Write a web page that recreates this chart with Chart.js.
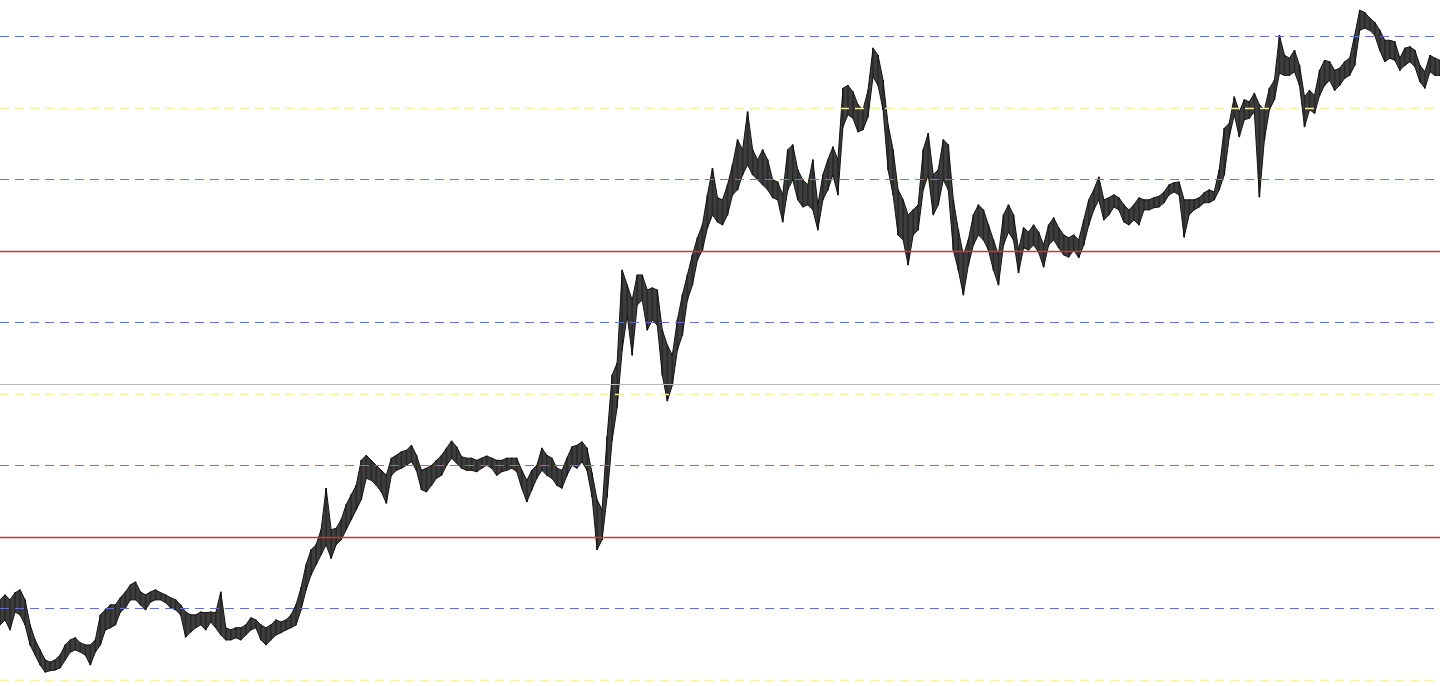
<!DOCTYPE html>
<html>
<head>
<meta charset="utf-8">
<script src="https://cdn.jsdelivr.net/npm/chart.js@4/dist/chart.umd.min.js"></script>
<style>
html,body{margin:0;padding:0;background:#fff;overflow:hidden;}
#wrap{width:1440px;height:686px;position:relative;}
</style>
</head>
<body>
<div id="wrap"><canvas id="c"></canvas></div>
<script>
// Price highs (top of each bar group)
const highs = [
111.2,111.9,111.2,112.2,112.6,111.2,107.7,105.6,104.2,102.8,102.5,102.8,103.5,104.9,105.6,105.9,105.2,104.9,104.9,105.6,
109.1,109.8,110.5,110.5,111.5,112.3,113.3,113.7,112.3,111.9,112.3,112.6,112.2,111.9,111.5,111.2,110.5,109.5,109.1,109.1,
109.5,109.4,109.5,109.4,112.3,107.3,107.0,107.3,107.3,107.7,108.7,108.4,107.7,107.3,107.7,108.4,108.1,108.4,109.1,110.5,
112.9,116.1,118.2,118.9,121.0,126.8,121.0,121.2,122.4,124.5,125.9,127.2,130.7,131.4,130.7,130.0,129.3,128.6,131.0,131.4,
131.9,132.1,132.8,131.4,129.3,129.6,130.0,130.7,131.4,132.4,133.4,132.6,131.2,131.0,131.0,130.7,131.0,131.3,131.0,130.7,
130.7,131.0,131.0,131.0,129.3,127.9,129.3,130.0,132.4,131.4,131.0,129.6,129.3,131.0,132.6,132.8,133.3,132.4,128.9,125.2,
123.8,134.0,142.6,144.3,157.3,155.2,153.1,156.6,156.6,154.5,154.8,154.5,148.9,146.8,145.4,150.3,153.8,156.6,159.4,161.8,
163.6,167.8,171.5,167.4,167.1,169.2,172.0,175.5,174.1,179.4,174.1,172.7,174.1,172.7,169.9,169.6,167.8,174.1,174.8,171.3,
169.9,169.2,172.7,166.4,170.6,172.7,174.5,172.7,182.7,183.1,182.2,180.4,179.7,182.4,188.3,187.3,183.8,177.6,174.1,168.5,
167.1,165.0,165.7,166.4,174.1,176.4,170.6,171.3,175.5,174.8,167.1,162.9,159.4,161.5,165.0,166.4,165.7,163.6,161.5,159.4,
165.0,166.4,165.0,160.1,163.2,162.6,163.6,162.6,160.8,163.6,164.6,163.2,162.2,161.8,162.2,161.5,164.3,167.1,168.5,170.3,
167.1,167.4,167.8,167.4,166.4,165.7,166.4,167.4,167.1,167.1,167.4,167.6,168.2,169.2,169.5,169.6,167.1,167.1,167.1,167.4,
168.1,168.5,168.2,171.3,177.1,177.8,181.5,179.4,181.1,180.8,182.0,180.4,179.7,182.7,183.8,190.1,187.3,186.9,188.0,185.9,
181.5,182.4,181.7,185.2,186.6,186.4,185.2,185.5,186.4,186.9,190.1,193.6,193.3,192.5,191.9,190.8,189.4,189.4,189.2,186.9,
188.3,188.5,188.0,185.9,185.0,187.3,186.9,186.6
];
// Price lows (bottom of each bar group)
const lows = [
107.7,108.4,107.0,109.5,109.1,107.7,104.9,103.5,102.1,101.1,101.3,101.4,101.7,102.8,103.9,104.2,103.9,103.5,102.1,103.9,
104.9,107.0,107.3,107.7,109.5,110.1,111.2,111.2,110.5,109.8,110.9,111.2,111.2,110.8,110.1,109.8,109.1,106.0,106.7,107.3,
107.7,107.0,108.1,107.3,106.3,105.6,105.6,105.9,105.6,106.3,107.0,107.3,105.6,104.9,105.6,106.3,106.6,107.0,107.3,107.7,
109.8,112.6,114.7,116.1,117.5,118.9,117.0,118.9,119.6,121.0,122.4,123.8,125.2,128.2,127.9,127.2,126.3,124.7,128.6,129.3,
129.6,130.0,130.5,129.3,126.6,126.3,127.2,128.2,128.6,130.0,131.0,130.3,129.6,129.3,129.3,129.1,129.6,130.0,129.6,128.6,
129.1,129.3,129.6,129.1,126.8,124.9,126.6,128.2,129.3,128.6,128.2,127.2,126.8,128.6,130.0,129.6,130.5,129.3,125.6,118.2,
119.6,125.6,133.5,138.1,146.1,151.0,145.4,152.4,153.1,148.9,150.3,149.6,142.6,139.0,141.2,146.1,148.2,153.1,155.2,158.7,
160.1,163.2,165.0,164.0,163.6,165.0,167.8,168.5,170.6,172.0,170.6,169.9,169.2,168.5,167.4,167.1,164.0,168.5,169.9,167.1,
166.1,166.4,165.7,162.9,167.1,168.5,170.6,167.8,177.3,179.0,178.5,176.6,176.9,178.7,184.3,183.1,179.7,171.3,167.8,162.2,
161.5,158.0,162.2,162.9,168.5,170.6,165.0,166.4,169.9,168.5,160.1,157.3,153.8,158.0,160.8,162.2,161.5,160.1,157.3,155.2,
160.8,162.6,161.5,156.9,160.4,160.1,160.8,159.8,157.7,160.8,161.5,160.4,159.4,159.1,160.1,159.0,160.8,163.6,165.7,167.1,
164.3,165.0,166.1,165.7,164.0,163.6,164.3,163.6,165.7,165.7,166.0,166.1,166.7,167.8,168.2,167.8,161.9,165.0,165.7,166.1,
166.7,166.7,167.1,168.5,170.6,175.9,179.0,175.9,178.3,178.5,179.4,167.5,175.5,179.7,181.1,184.8,184.5,184.5,185.0,183.1,
177.3,179.7,179.2,181.7,183.1,183.8,182.4,183.1,184.1,184.5,185.9,190.8,191.1,190.8,190.1,188.0,186.4,186.9,186.6,185.2,
185.9,186.4,185.7,183.6,182.7,185.0,184.5,184.5
];
const bars = highs.map((_, i) => i + 1);

// Horizontal reference levels
const levelValues = [100, 110, 120, 130, 140, 150, 160, 170, 180, 190];
const levelKinds  = ['yellow','blue','red','purple','yellow','blue','red','purple','yellow','blue'];
const lastPrice = 141.3;

const kindStyle = {
  blue:   {color:'#5e72c9', dash:[9,6], width:1},
  yellow: {color:'#f6f0a0', dash:[9,6], width:1.5},
  purple: {color:'#a066b4', dash:[9,6], width:1},
  red:    {color:'#de2f28', dash:[],    width:1.5}
};

const levelsPlugin = {
  id:'levels',
  afterDatasetsDraw(chart){
    const {ctx, chartArea:a, scales:{y}} = chart;
    ctx.save();
    const line = (v, st) => {
      const py = Math.round(y.getPixelForValue(v)) + 0.5;
      ctx.beginPath();
      ctx.setLineDash(st.dash);
      ctx.lineWidth = st.width;
      ctx.strokeStyle = st.color;
      ctx.moveTo(a.left, py); ctx.lineTo(a.right, py);
      ctx.stroke();
    };
    levelValues.forEach((v,i) => line(v, kindStyle[levelKinds[i]]));
    line(lastPrice, {color:'#b4bcb4', dash:[], width:1});
    ctx.restore();
  }
};

new Chart(document.getElementById('c'), {
  type:'line',
  data:{
    labels: bars,
    datasets:[
      {label:'High', data:highs, borderColor:'#111', borderWidth:1, pointRadius:0, tension:0, fill:false},
      {label:'Low', data:lows, borderColor:'#111', borderWidth:1, pointRadius:0, tension:0,
       fill:'-1', backgroundColor:'rgba(45,45,45,0.92)'},
      {label:'Range', type:'bar', data:highs.map((h,i)=>[lows[i],h]), backgroundColor:'#0c0c0c',
       barThickness:1, grouped:false}
    ]
  },
  options:{
    responsive:true, maintainAspectRatio:false, animation:false,
    layout:{padding:0},
    plugins:{legend:{display:false}, tooltip:{enabled:false}},
    scales:{
      x:{display:false, offset:false},
      y:{display:false, min:99.16, max:195.03}
    }
  },
  plugins:[levelsPlugin]
});
</script>
</body>
</html>
